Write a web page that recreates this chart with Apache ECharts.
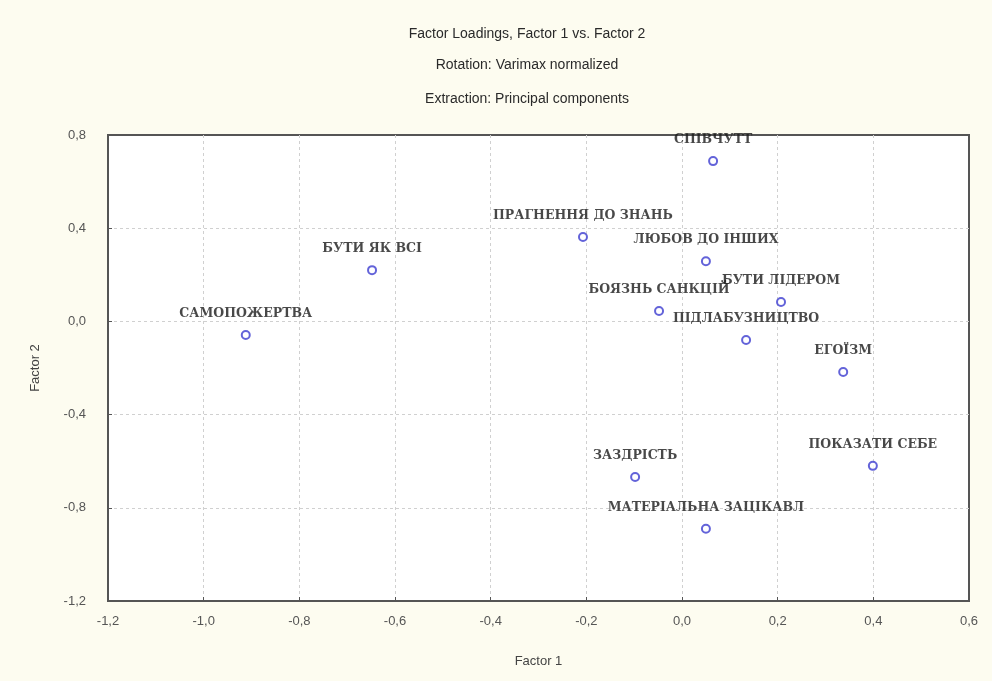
<!DOCTYPE html>
<html>
<head>
<meta charset="utf-8">
<script src="https://cdn.jsdelivr.net/npm/echarts@6/dist/echarts.min.js"></script>
<style>
html,body{margin:0;padding:0;background:#fdfcf0;}
#chart{width:992px;height:681px;}
</style>
</head>
<body>
<div id="chart"></div>
<script>
const names = ['СПІВЧУТТ','ПРАГНЕННЯ ДО ЗНАНЬ','ЛЮБОВ ДО ІНШИХ','БУТИ ЯК ВСІ','САМОПОЖЕРТВА','БОЯЗНЬ САНКЦІЙ','БУТИ ЛІДЕРОМ','ПІДЛАБУЗНИЦТВО','ЕГОЇЗМ','ЗАЗДРІСТЬ','ПОКАЗАТИ СЕБЕ','МАТЕРІАЛЬНА ЗАЦІКАВЛ'];
const factor1 = [0.065, -0.207, 0.050, -0.648, -0.912, -0.048, 0.207, 0.134, 0.337, -0.098, 0.399, 0.050];
const factor2 = [0.688, 0.362, 0.258, 0.220, -0.058, 0.045, 0.083, -0.080, -0.217, -0.668, -0.620, -0.890];
const titleLines = ['Factor Loadings, Factor 1 vs. Factor 2','Rotation: Varimax normalized','Extraction: Principal components'];

const fmt = v => (Math.round(v*10)/10).toFixed(1).replace('.', ',');
const data = names.map((n,i)=>({name:n, value:[factor1[i], factor2[i]]}));
const titleTops = [22, 53, 87];

const chart = echarts.init(document.getElementById('chart'));
chart.setOption({
  backgroundColor:'#fdfcf0',
  animation:false,
  title: titleLines.map((t,i)=>({
    text:t, left:522, top:titleTops[i], textAlign:'center',
    textStyle:{fontFamily:'Liberation Sans', fontSize:14, fontWeight:'normal', color:'#2a2a2a'}
  })),
  grid:{left:108, top:135, right:23, bottom:80, show:true, backgroundColor:'#ffffff', borderColor:'#555', borderWidth:2},
  xAxis:{
    type:'value', min:-1.2, max:0.6, interval:0.2,
    name:'Factor 1', nameLocation:'middle', nameGap:54,
    nameTextStyle:{fontFamily:'Liberation Sans', fontSize:13, color:'#444'},
    axisLine:{show:true, onZero:false, lineStyle:{color:'#555', width:2}},
    axisTick:{show:true, inside:true, length:4, lineStyle:{color:'#555'}},
    axisLabel:{formatter:fmt, margin:14, fontFamily:'Liberation Sans', fontSize:13, color:'#555'},
    splitLine:{show:true, showMinLine:false, showMaxLine:false, lineStyle:{type:[3,3], color:'#d0d0d0'}}
  },
  yAxis:{
    type:'value', min:-1.2, max:0.8, interval:0.4,
    name:'Factor 2', nameLocation:'middle', nameGap:66, nameRotate:90,
    nameTextStyle:{fontFamily:'Liberation Sans', fontSize:13, color:'#444'},
    axisLine:{show:true, onZero:false, lineStyle:{color:'#555', width:2}},
    axisTick:{show:true, inside:true, length:4, lineStyle:{color:'#555'}},
    axisLabel:{formatter:fmt, margin:22, fontFamily:'Liberation Sans', fontSize:13, color:'#555'},
    splitLine:{show:true, showMinLine:false, showMaxLine:false, lineStyle:{type:[3,3], color:'#d0d0d0'}}
  },
  series:[{
    type:'scatter',
    data:data,
    symbol:'circle', symbolSize:8,
    itemStyle:{color:'#ffffff', borderColor:'#3c3cd0', borderWidth:2},
    label:{show:true, position:'top', distance:10, formatter:p=>p.name,
      fontFamily:'DejaVu Serif', fontWeight:'bold', fontSize:12.5, color:'#1a1a1a'}
  }]
});
</script>
</body>
</html>
